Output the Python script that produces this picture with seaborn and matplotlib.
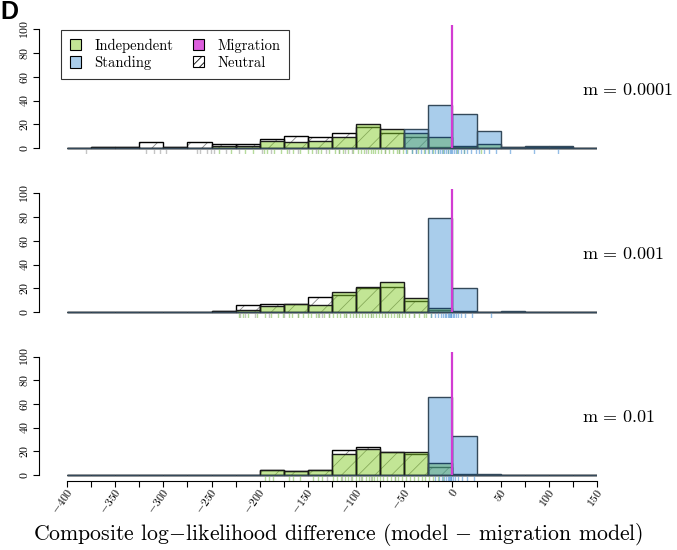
import numpy as np
import matplotlib
matplotlib.use("Agg")
import matplotlib.pyplot as plt
import matplotlib.patches as mpatches
import matplotlib.transforms as mtransforms
import seaborn as sns

# ---- data (counts per 25-wide bin, -400 .. 150) ----
bin_edges = list(range(-400, 151, 25))
bin_centers = [e + 12.5 for e in bin_edges[:-1]]

panel_labels = ["$\\mathrm{m}\\,=\\,0.0001$", "$\\mathrm{m}\\,=\\,0.001$", "$\\mathrm{m}\\,=\\,0.01$"]

indep_m1 = [0, 1, 1, 0, 1, 0, 2, 2, 6, 5, 6, 9, 20, 16, 13, 9, 2, 3, 1, 1, 1, 0]
stand_m1 = [0, 0, 0, 0, 0, 0, 0, 0, 0, 0, 0, 0, 0, 0, 16, 36, 29, 14, 1, 2, 2, 0]
neutr_m1 = [0, 1, 1, 5, 1, 5, 3, 3, 8, 10, 9, 13, 18, 13, 9, 1, 1, 0, 0, 0, 0, 0]

indep_m2 = [0, 0, 0, 0, 0, 0, 1, 2, 5, 7, 6, 17, 21, 25, 12, 3, 1, 0, 0, 0, 0, 0]
stand_m2 = [0, 0, 0, 0, 0, 0, 0, 0, 0, 0, 0, 0, 0, 0, 0, 79, 20, 0, 1, 0, 0, 0]
neutr_m2 = [0, 0, 0, 0, 0, 0, 1, 6, 7, 7, 13, 14, 20, 21, 9, 2, 0, 0, 0, 0, 0, 0]

indep_m3 = [0, 0, 0, 0, 0, 0, 0, 0, 4, 3, 4, 18, 22, 19, 19, 10, 1, 0, 0, 0, 0, 0]
stand_m3 = [0, 0, 0, 0, 0, 0, 0, 0, 0, 0, 0, 0, 0, 0, 0, 66, 33, 1, 0, 0, 0, 0]
neutr_m3 = [0, 0, 0, 0, 0, 0, 0, 0, 4, 3, 4, 21, 24, 19, 18, 7, 0, 0, 0, 0, 0, 0]

# rug values (individual replicates)
rug_neutr_m1 = [-380, -318, -310, -303, -297, -265, -262, -255, -251, -247, -235, -222,
                -198, -188, -170, -160, -142, -131, -118, -112, -104, -90, -70, -55, -38]
rug_indep_m1 = [-242, -230, -215, -207, -196, -192, -185, -178, -172, -165, -158, -150,
                -146, -140, -136, -128, -122, -118, -114, -108, -103, -98, -95, -92, -88,
                -85, -82, -80, -77, -74, -70, -66, -62, -58, -55, -51, -47, -42, -36, -30,
                -25, -20, -15, -10, -5, 5, 12, 30]
rug_stand_m1 = [-48, -42, -38, -33, -28, -24, -21, -18, -15, -13, -11, -9, -7, -5, -3, -2,
                0, 2, 4, 6, 9, 12, 15, 19, 24, 28, 33, 38, 45, 60, 85, 110]

rug_neutr_m2 = [-220, -215, -205, -190, -175, -160, -140, -135, -128, -110, -100, -85,
                -70, -55, -40]
rug_indep_m2 = [-222, -217, -212, -203, -195, -188, -181, -176, -170, -166, -160, -155,
                -150, -147, -142, -138, -133, -128, -124, -120, -117, -113, -110, -106,
                -103, -100, -97, -94, -91, -88, -85, -82, -79, -76, -73, -70, -67, -64,
                -61, -58, -55, -52, -49, -45, -40, -35, -30, -27, -22]
rug_stand_m2 = [-22, -18, -15, -12, -10, -8, -7, -5, -4, -3, -2, -1, 1, 2, 4, 6, 9, 13, 20, 40]

rug_neutr_m3 = [-130, -115, -105, -95, -85, -60]
rug_indep_m3 = [-195, -190, -186, -170, -165, -158, -145, -140, -135, -124, -120, -116,
                -112, -108, -104, -100, -97, -94, -90, -87, -84, -81, -78, -75, -72, -68,
                -64, -60, -56, -52, -48, -44, -40, -36, -32, -28, -24, -20, -15, -10]
rug_stand_m3 = [-18, -14, -11, -9, -7, -5, -4, -3, -2, -1, 1, 3, 6, 10, 15, 22]

panels = [
    (neutr_m1, indep_m1, stand_m1, rug_neutr_m1, rug_indep_m1, rug_stand_m1),
    (neutr_m2, indep_m2, stand_m2, rug_neutr_m2, rug_indep_m2, rug_stand_m2),
    (neutr_m3, indep_m3, stand_m3, rug_neutr_m3, rug_indep_m3, rug_stand_m3),
]

# ---- style ----
sns.set_style("white")
plt.rcParams["font.family"] = ["cmr10", "DejaVu Serif"]
plt.rcParams["mathtext.fontset"] = "cm"
plt.rcParams["axes.formatter.use_mathtext"] = True
plt.rcParams["hatch.linewidth"] = 0.6
for k in ["text.color", "axes.edgecolor", "axes.labelcolor", "xtick.color", "ytick.color"]:
    plt.rcParams[k] = "black"

green = (135 / 255, 205 / 255, 45 / 255, 0.5)
blue = (42 / 255, 130 / 255, 205 / 255, 0.4)
magenta = "#d23cd2"

W, H = 677, 550
fig = plt.figure(figsize=(W / 100, H / 100), dpi=100)

scale = 1.185  # px per count
baselines = [148, 312, 475]
x_left, x_right = 67, 597


def hist(ax, counts, **kw):
    sns.histplot(x=bin_centers, weights=counts, bins=bin_edges, ax=ax, **kw)


axes = []
for i, (neu, ind, sta, rn, ri, rs) in enumerate(panels):
    b = baselines[i]
    top = b - 108 * scale
    bottom = b + 5 * scale
    ax = fig.add_axes([x_left / W, 1 - bottom / H, (x_right - x_left) / W, (bottom - top) / H])
    axes.append(ax)

    # neutral: hatched, grey hatch lines, then black outline
    hist(ax, neu, facecolor="white", edgecolor="#888888", linewidth=0, hatch="//")
    hist(ax, neu, facecolor="none", edgecolor="black", linewidth=1.0)
    # independent
    hist(ax, ind, facecolor=green, edgecolor="#1a1a1a", linewidth=1.0)
    # standing
    hist(ax, sta, facecolor=blue, edgecolor="#34495a", linewidth=1.0)

    # rugs
    sns.rugplot(x=rn, ax=ax, height=0.035, color="#8c8c8c", alpha=0.5, lw=0.6, expand_margins=False)
    sns.rugplot(x=ri, ax=ax, height=0.035, color="#86c45a", alpha=0.6, lw=0.6, expand_margins=False)
    sns.rugplot(x=rs, ax=ax, height=0.035, color="#4f93d6", alpha=0.6, lw=0.6, expand_margins=False)

    # migration model reference
    ax.vlines(0, 0, 104, color=magenta, lw=1.6, zorder=5)

    ax.set_xlim(-400, 150)
    ax.set_ylim(-5, 108)
    ax.set_xlabel("")
    ax.set_ylabel("")

    for s in ["top", "right"]:
        ax.spines[s].set_visible(False)
    ax.spines["left"].set_position(("outward", 20))
    ax.spines["left"].set_bounds(0, 100)
    ax.spines["left"].set_linewidth(0.8)
    ax.set_yticks([0, 20, 40, 60, 80, 100])
    ax.tick_params(axis="y", left=True, length=4.3, width=0.8, pad=2.5,
                   labelsize=8.5, labelrotation=90)
    for lab in ax.get_yticklabels():
        lab.set_va("center")

    if i < 2:
        ax.spines["bottom"].set_visible(False)
        ax.set_xticks([])
    else:
        ax.spines["bottom"].set_bounds(-400, 150)
        ax.spines["bottom"].set_linewidth(0.8)
        ax.set_xticks(list(range(-400, 151, 50)))
        ax.set_xticks(list(range(-375, 150, 50)), minor=True)
        ax.tick_params(axis="x", which="both", bottom=True, length=4.3, width=0.8,
                       labelsize=8.5, pad=2)
        offset = mtransforms.ScaledTranslation(3 / 100, 0, fig.dpi_scale_trans)
        for lab in ax.get_xticklabels():
            lab.set_rotation(55)
            lab.set_ha("right")
            lab.set_va("center")
            lab.set_rotation_mode("anchor")
            lab.set_transform(lab.get_transform() + offset)

    fig.text(582 / W, 1 - (b - 58) / H, panel_labels[i], fontsize=13, va="center", ha="left")

# legend
handles = [
    mpatches.Patch(facecolor="#c3e596", edgecolor="black", lw=0.8, label="Independent"),
    mpatches.Patch(facecolor="#aacdeb", edgecolor="black", lw=0.8, label="Standing"),
    mpatches.Patch(facecolor="#dd5fdd", edgecolor="black", lw=0.8, label="Migration"),
    mpatches.Patch(facecolor="white", edgecolor="black", lw=0.8, hatch="////", label="Neutral"),
]
leg = fig.legend(handles=handles, ncol=2, loc="upper left",
                 bbox_to_anchor=(61 / W, 1 - 30 / H), borderaxespad=0,
                 fontsize=10.5, frameon=True, fancybox=False, edgecolor="black",
                 handlelength=0.8, handleheight=0.8, handletextpad=0.9,
                 columnspacing=1.3, labelspacing=0.2, borderpad=0.6)
leg.get_frame().set_linewidth(0.8)

# panel letter, baseline just above the first y tick label
fig.text(0.0, 1 - 19 / H, "D", fontsize=18, fontweight="bold", family="Liberation Sans",
         va="baseline", ha="left")

fig.text(338 / W, 1 - 535 / H,
         "Composite log$-$likelihood difference (model $-$ migration model)",
         fontsize=15.7, ha="center", va="center")

fig.savefig("out.png", dpi=100)
